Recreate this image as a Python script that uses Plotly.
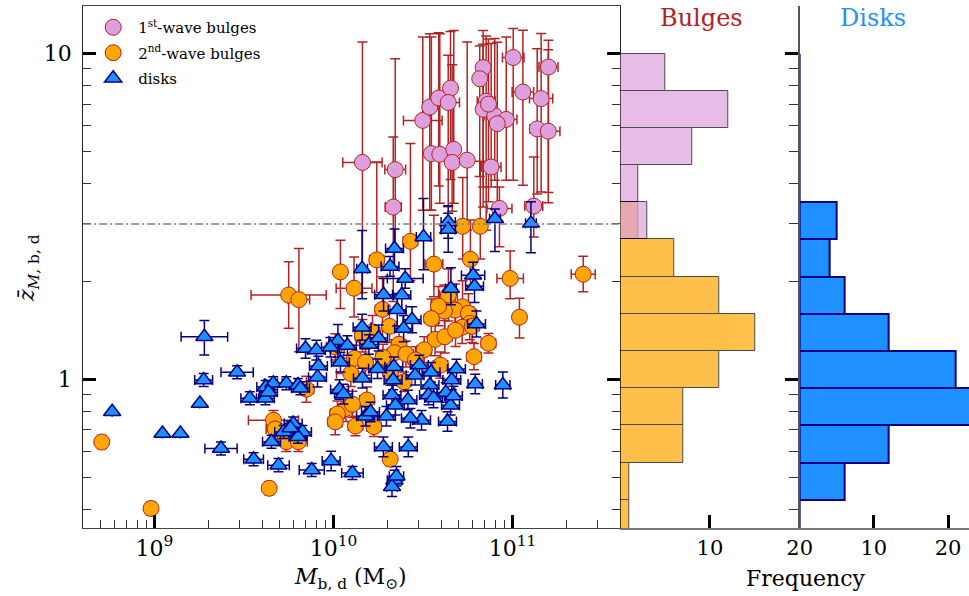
import numpy as np
import plotly.graph_objects as go

# ---------------- data (log10 mass [Msun], log10 z-bar, errors in dex) ----------------
# 1st-wave bulges
p_logm = [10.162, 10.345, 10.334, 10.499, 10.538, 10.588, 10.654, 10.641, 10.547, 10.594,
          10.672, 10.663, 10.747, 10.836, 10.817, 10.853, 10.836, 10.901, 10.965, 10.915,
          10.881, 11.004, 11.058, 11.201, 11.160, 11.138, 11.200, 10.927, 11.119, 10.866]
p_logz = [0.666, 0.644, 0.529, 0.795, 0.836, 0.864, 0.894, 0.850, 0.693, 0.691,
          0.706, 0.666, 0.673, 0.957, 0.923, 0.854, 0.829, 0.809, 0.798, 0.785,
          0.652, 0.988, 0.882, 0.959, 0.862, 0.769, 0.762, 0.525, 0.532, 0.845]
p_dm = [0.11, 0.058, 0.045, 0.108, 0.03, 0.04, 0.03, 0.063, 0.03, 0.03,
        0.03, 0.03, 0.03, 0.03, 0.03, 0.05, 0.03, 0.06, 0.06, 0.03,
        0.055, 0.06, 0.06, 0.053, 0.065, 0.04, 0.065, 0.07, 0.05, 0.03]
p_dz_lo = [0.40, 0.25, 0.29, 0.276, 0.317, 0.27, 0.28, 0.32, 0.174, 0.15,
           0.165, 0.15, 0.215, 0.366, 0.30, 0.396, 0.30, 0.198, 0.187, 0.25,
           0.061, 0.377, 0.286, 0.385, 0.287, 0.20, 0.22, 0.118, 0.095, 0.30]
p_dz_hi = [0.37, 0.34, 0.215, 0.256, 0.225, 0.20, 0.174, 0.145, 0.358, 0.37,
           0.365, 0.30, 0.363, 0.114, 0.10, 0.20, 0.20, 0.237, 0.253, 0.25,
           0.379, 0.089, 0.19, 0.082, 0.20, 0.246, 0.25, 0.066, 0.151, 0.20]

# 2nd-wave bulges
o_logm = [10.722, 10.820, 10.430, 10.242, 10.039, 10.561, 10.765, 11.395, 10.987, 10.115,
          9.750, 9.807, 10.642, 10.274, 10.721, 10.679, 10.620, 10.587, 10.754, 11.039,
          10.547, 10.761, 10.313, 10.218, 10.162, 10.568, 10.622, 10.866, 10.366, 10.010,
          10.507, 10.719, 10.775, 10.682, 10.785, 10.341, 10.405, 10.277, 10.117, 10.097,
          10.395, 10.458, 10.179, 10.598, 10.318, 9.849, 10.187, 10.070, 10.022, 10.010,
          9.665, 10.106, 10.123, 10.226, 9.674, 9.737, 9.804, 10.317, 8.706, 9.641, 8.981]
o_logz = [0.470, 0.470, 0.424, 0.367, 0.330, 0.354, 0.369, 0.323, 0.310, 0.280,
          0.259, 0.245, 0.259, 0.215, 0.223, 0.213, 0.210, 0.225, 0.203, 0.191,
          0.187, 0.172, 0.163, 0.146, 0.134, 0.123, 0.131, 0.111, 0.108, 0.100,
          0.091, 0.160, 0.163, 0.151, 0.070, 0.082, 0.078, 0.068, 0.065, 0.018,
          -0.007, 0.060, 0.053, 0.044, 0.022, -0.030, -0.063, -0.089, -0.106, -0.130,
          -0.125, -0.076, -0.143, -0.145, -0.152, -0.191, -0.191, -0.245, -0.192, -0.334, -0.396]
o_dm = [0.03, 0.03, 0.04, 0.04, 0.025, 0.05, 0.03, 0.067, 0.074, 0.10,
        0.21, 0.06, 0.05, 0.04, 0.04, 0.04, 0.04, 0.04, 0.04, 0.03,
        0.04, 0.04, 0.04, 0.04, 0.04, 0.04, 0.04, 0.04, 0.04, 0.05,
        0.04, 0.04, 0.04, 0.04, 0.04, 0.04, 0.04, 0.04, 0.06, 0.08,
        0.04, 0.04, 0.04, 0.04, 0.04, 0.04, 0.04, 0.04, 0.04, 0.04,
        0.14, 0.04, 0.04, 0.04, 0.05, 0.05, 0.05, 0.025, 0.02, 0.025, 0.025]
o_dz_lo = [0.10, 0.10, 0.12, 0.10, 0.112, 0.10, 0.08, 0.054, 0.062, 0.088,
           0.102, 0.160, 0.08, 0.10, 0.08, 0.08, 0.08, 0.06, 0.06, 0.064,
           0.06, 0.05, 0.05, 0.05, 0.05, 0.05, 0.05, 0.03, 0.04, 0.04,
           0.04, 0.05, 0.05, 0.05, 0.04, 0.04, 0.04, 0.04, 0.04, 0.04,
           0.03, 0.04, 0.04, 0.04, 0.04, 0.04, 0.04, 0.04, 0.04, 0.04,
           0.03, 0.04, 0.03, 0.03, 0.03, 0.03, 0.03, 0.02, 0.02, 0.02, 0.02]
o_dz_hi = [0.15, 0.20, 0.30, 0.30, 0.097, 0.15, 0.12, 0.055, 0.084, 0.096,
           0.102, 0.157, 0.08, 0.10, 0.08, 0.08, 0.08, 0.06, 0.06, 0.058,
           0.06, 0.05, 0.05, 0.05, 0.05, 0.05, 0.05, 0.03, 0.04, 0.04,
           0.04, 0.05, 0.05, 0.05, 0.04, 0.04, 0.04, 0.04, 0.04, 0.04,
           0.03, 0.04, 0.04, 0.04, 0.04, 0.04, 0.04, 0.04, 0.04, 0.04,
           0.03, 0.04, 0.03, 0.03, 0.03, 0.03, 0.03, 0.02, 0.02, 0.02, 0.02]

# disks
d_logm = [10.641, 10.641, 10.902, 11.103, 10.503, 10.341, 10.160, 10.316, 10.780, 10.401,
          10.280, 10.382, 10.356, 10.788, 10.656, 10.439, 10.392, 10.160, 9.279, 9.844,
          9.905, 10.025, 10.078, 10.198, 10.799, 10.252, 9.983, 9.275, 9.462, 9.911,
          10.246, 10.337, 10.480, 10.687, 10.792, 10.946, 10.661, 10.539, 9.622, 9.664,
          9.737, 9.802, 10.333, 10.456, 10.039, 10.545, 10.162, 9.916, 9.533, 9.620,
          9.254, 8.764, 10.034, 10.327, 10.416, 10.531, 10.628, 10.654, 10.179, 10.296,
          10.492, 10.637, 9.775, 9.637, 9.816, 10.056, 10.207, 10.346, 10.559, 10.670,
          10.430, 9.827, 9.722, 9.802, 9.654, 9.045, 9.145, 9.372, 9.554, 9.987,
          10.279, 10.418, 9.760, 9.693, 9.879, 10.106, 10.341, 10.327, 10.352]
d_logz = [0.483, 0.460, 0.493, 0.479, 0.437, 0.402, 0.340, 0.347, 0.320, 0.310,
          0.260, 0.259, 0.214, 0.286, 0.279, 0.183, 0.156, 0.160, 0.131, 0.095,
          0.090, 0.119, 0.104, 0.107, 0.170, 0.127, 0.099, -0.002, 0.022, 0.007,
          0.033, 0.039, 0.044, 0.032, -0.014, -0.017, -0.002, -0.017, -0.023, -0.012,
          -0.012, -0.017, -0.002, 0.013, 0.053, 0.022, 0.004, 0.041, -0.058, -0.058,
          -0.074, -0.099, -0.031, -0.048, -0.063, -0.048, -0.040, -0.079, -0.113, -0.113,
          -0.125, -0.129, -0.135, -0.039, -0.027, -0.045, -0.100, -0.079, -0.057, -0.051,
          -0.119, -0.161, -0.161, -0.176, -0.191, -0.166, -0.166, -0.212, -0.245, -0.250,
          -0.207, -0.207, -0.149, -0.263, -0.278, -0.287, -0.309, -0.329, -0.297]
d_dm = [0.04, 0.04, 0.03, 0.03, 0.04, 0.05, 0.03, 0.05, 0.065, 0.10,
        0.05, 0.05, 0.05, 0.05, 0.03, 0.05, 0.05, 0.05, 0.13, 0.05,
        0.05, 0.05, 0.05, 0.05, 0.05, 0.05, 0.05, 0.05, 0.09, 0.05,
        0.05, 0.05, 0.05, 0.05, 0.04, 0.04, 0.05, 0.05, 0.05, 0.05,
        0.05, 0.05, 0.05, 0.05, 0.05, 0.05, 0.05, 0.05, 0.05, 0.05,
        0.0, 0.0, 0.05, 0.05, 0.05, 0.05, 0.05, 0.05, 0.05, 0.05,
        0.05, 0.05, 0.05, 0.05, 0.05, 0.05, 0.05, 0.05, 0.05, 0.05,
        0.05, 0.05, 0.05, 0.05, 0.05, 0.0, 0.0, 0.09, 0.055, 0.05,
        0.05, 0.05, 0.05, 0.06, 0.07, 0.06, 0.04, 0.03, 0.04]
d_dz_lo = [0.05, 0.07, 0.10, 0.09, 0.10, 0.06, 0.092, 0.03, 0.04, 0.03,
           0.05, 0.05, 0.05, 0.05, 0.05, 0.04, 0.04, 0.04, 0.056, 0.03,
           0.03, 0.05, 0.03, 0.03, 0.04, 0.04, 0.03, 0.02, 0.02, 0.03,
           0.03, 0.03, 0.03, 0.03, 0.03, 0.04, 0.03, 0.03, 0.02, 0.02,
           0.02, 0.02, 0.03, 0.03, 0.03, 0.03, 0.03, 0.03, 0.02, 0.02,
           0.0, 0.0, 0.03, 0.03, 0.03, 0.03, 0.03, 0.03, 0.03, 0.03,
           0.03, 0.03, 0.02, 0.02, 0.02, 0.03, 0.03, 0.03, 0.03, 0.03,
           0.03, 0.02, 0.02, 0.02, 0.02, 0.0, 0.0, 0.02, 0.02, 0.03,
           0.03, 0.03, 0.02, 0.02, 0.02, 0.02, 0.03, 0.03, 0.03]
d_dz_hi = [0.05, 0.05, 0.03, 0.066, 0.118, 0.06, 0.117, 0.03, 0.04, 0.03,
           0.05, 0.05, 0.05, 0.05, 0.064, 0.04, 0.04, 0.04, 0.05, 0.03,
           0.03, 0.05, 0.03, 0.03, 0.04, 0.04, 0.03, 0.02, 0.02, 0.03,
           0.03, 0.03, 0.03, 0.03, 0.03, 0.04, 0.03, 0.03, 0.02, 0.02,
           0.02, 0.02, 0.03, 0.03, 0.03, 0.03, 0.03, 0.03, 0.02, 0.02,
           0.0, 0.0, 0.03, 0.03, 0.03, 0.03, 0.03, 0.03, 0.03, 0.03,
           0.03, 0.03, 0.02, 0.02, 0.02, 0.03, 0.03, 0.03, 0.03, 0.03,
           0.03, 0.02, 0.02, 0.02, 0.02, 0.0, 0.0, 0.02, 0.02, 0.03,
           0.03, 0.03, 0.02, 0.02, 0.02, 0.02, 0.03, 0.03, 0.03]

# histograms (bins in log10 z-bar, counted from the top edge at z = 10)
bin_edges_log = [1.0, 0.886, 0.772, 0.658, 0.544, 0.430, 0.315, 0.201,
                 0.087, -0.027, -0.141, -0.255, -0.369, -0.483]
hist_first = [5, 12, 8, 2, 3, 0, 0, 0, 0, 0, 0, 0, 0]
hist_second = [0, 0, 0, 0, 2, 6, 11, 15, 11, 7, 7, 1, 1]
hist_disks = [0, 0, 0, 0, 5, 4, 6, 12, 21, 23, 12, 6, 0]

z_threshold = 3.0
x_range = [4e8, 4e11]
y_range = [0.35, 14.0]
x_major = [1e9, 1e10, 1e11]
x_major_text = ["10<sup>9</sup>", "10<sup>10</sup>", "10<sup>11</sup>"]
x_minor = [5e8, 6e8, 7e8, 8e8, 9e8, 2e9, 3e9, 4e9, 5e9, 6e9, 7e9, 8e9, 9e9,
           2e10, 3e10, 4e10, 5e10, 6e10, 7e10, 8e10, 9e10, 2e11, 3e11]
y_major = [1, 10]
y_minor = [0.4, 0.5, 0.6, 0.7, 0.8, 0.9, 2, 3, 4, 5, 6, 7, 8, 9]

# ---------------- helpers ----------------
def errs(logv, lo, hi):
    v = 10 ** np.array(logv)
    plus = 10 ** (np.array(logv) + np.array(hi)) - v
    minus = v - 10 ** (np.array(logv) - np.array(lo))
    return v, plus, minus

SERIF = "DejaVu Serif"
W, H = 969, 596          # target picture size
PAGE_W = 984             # the page is photographed squeezed to 969 px wide
def px(x):
    return x / W
def py(y):
    return 1 - y / H

fig = go.Figure()

def add_group(logm, logz, dm, dz_lo, dz_hi, name, symbol, size, fill, edge, ecolor, lw):
    x, xp, xm = errs(logm, dm, dm)
    y, yp, ym = errs(logz, dz_lo, dz_hi)
    fig.add_trace(go.Scatter(
        x=x, y=y, mode="markers", name=name, legendgroup=name,
        marker=dict(symbol=symbol, size=size, color=fill, line=dict(color=edge, width=lw)),
        error_x=dict(type="data", symmetric=False, array=xp, arrayminus=xm,
                     color=ecolor, thickness=1.5, width=5),
        error_y=dict(type="data", symmetric=False, array=yp, arrayminus=ym,
                     color=ecolor, thickness=1.5, width=5),
        xaxis="x", yaxis="y"))

add_group(p_logm, p_logz, p_dm, p_dz_lo, p_dz_hi, "1<sup>st</sup>-wave bulges",
          "circle", 16, "plum", "firebrick", "firebrick", 1)
add_group(o_logm, o_logz, o_dm, o_dz_lo, o_dz_hi, "2<sup>nd</sup>-wave bulges",
          "circle", 16, "orange", "firebrick", "firebrick", 1)
add_group(d_logm, d_logz, d_dm, d_dz_lo, d_dz_hi, "disks",
          "triangle-up", 15, "dodgerblue", "navy", "navy", 1.5)

edges = np.array(bin_edges_log)
centers = (edges[:-1] + edges[1:]) / 2
widths = edges[:-1] - edges[1:]

fig.add_trace(go.Bar(x=hist_second, y=centers, width=widths, orientation="h",
                     marker=dict(color="orange", line=dict(color="black", width=1)),
                     opacity=0.7, showlegend=False, xaxis="x2", yaxis="y2"))
fig.add_trace(go.Bar(x=hist_first, y=centers, width=widths, orientation="h",
                     marker=dict(color="plum", line=dict(color="black", width=1)),
                     opacity=0.7, showlegend=False, xaxis="x2", yaxis="y2"))
fig.add_trace(go.Bar(x=hist_disks, y=centers, width=widths, orientation="h",
                     marker=dict(color="dodgerblue", line=dict(color="navy", width=2)),
                     showlegend=False, xaxis="x3", yaxis="y3"))

fig.add_shape(type="line", xref="x domain", x0=0, x1=1, yref="y",
              y0=z_threshold, y1=z_threshold,
              line=dict(color="gray", width=1.5, dash="8px,3px,2px,3px"))

ydom = [py(528), py(6)]
log_yr = [np.log10(y_range[0]), np.log10(y_range[1])]
tickfont = dict(family=SERIF, size=22, color="black")

fig.update_layout(
    width=PAGE_W, height=H, autosize=False, margin=dict(l=0, r=0, t=0, b=0),
    paper_bgcolor="white", plot_bgcolor="white",
    barmode="overlay", bargap=0,
    font=dict(family=SERIF, color="black"),
    xaxis=dict(type="log", domain=[px(83), px(619)], anchor="y",
               range=[np.log10(x_range[0]), np.log10(x_range[1])],
               showgrid=False, zeroline=False, showline=True, linecolor="#444", linewidth=1.2,
               mirror=True, ticks="inside", ticklen=13, tickwidth=2.5, tickcolor="black",
               tickmode="array", tickvals=x_major, ticktext=x_major_text, tickfont=tickfont,
               minor=dict(tickmode="array", tickvals=x_minor, ticks="inside", ticklen=8,
                          tickwidth=1, tickcolor="#333")),
    yaxis=dict(type="log", domain=ydom, anchor="x",
               range=log_yr,
               showgrid=False, zeroline=False, showline=True, linecolor="#222", linewidth=1.2,
               mirror="ticks", ticks="inside", ticklen=13, tickwidth=3, tickcolor="black",
               tickmode="array", tickvals=y_major, ticktext=["1", "10"], tickfont=tickfont,
               ticklabelstandoff=6,
               minor=dict(tickmode="array", tickvals=y_minor, ticks="inside", ticklen=8,
                          tickwidth=1, tickcolor="#333")),
    xaxis2=dict(domain=[px(619), px(798)], anchor="y2", range=[0, 20],
                showgrid=False, zeroline=False, showline=True, linecolor="#777", linewidth=1.5,
                ticks="inside", ticklen=13, tickwidth=2.5, tickcolor="black",
                tickmode="array", tickvals=[10, 20], tickfont=dict(family=SERIF, size=21)),
    yaxis2=dict(domain=ydom, anchor="x2", range=log_yr, showgrid=False, zeroline=False,
                showline=False, showticklabels=False, ticks=""),
    xaxis3=dict(domain=[px(798), 1.0], anchor="y3", range=[0, 23.1],
                showgrid=False, zeroline=False, showline=True, linecolor="#777", linewidth=1.5,
                ticks="inside", ticklen=13, tickwidth=2.5, tickcolor="black",
                tickmode="array", tickvals=[10, 20], tickfont=dict(family=SERIF, size=21)),
    yaxis3=dict(domain=ydom, anchor="x3", range=log_yr, showgrid=False, zeroline=False,
                showline=True, linecolor="#555", linewidth=1.5, showticklabels=False,
                ticks="outside", ticklen=13, tickwidth=3, tickcolor="black",
                tickmode="array", tickvals=list(np.log10(y_major)),
                minor=dict(tickmode="array", tickvals=list(np.log10(y_minor)), ticks="outside",
                           ticklen=9, tickwidth=1, tickcolor="#333")),
    legend=dict(x=px(88), y=py(11), xanchor="left", yanchor="top",
                bgcolor="rgba(255,255,255,0)", font=dict(family=SERIF, size=15),
                tracegroupgap=3, itemwidth=40),
    showlegend=True,
)

fig.add_annotation(text="<i>M</i><sub>b, d</sub> (M<sub>⊙</sub>)", x=px(350), y=py(578),
                   xref="paper", yref="paper", showarrow=False,
                   font=dict(family=SERIF, size=22), xanchor="center", yanchor="middle")
fig.add_annotation(text="<i>z̄</i><sub><i>M</i>, b, d</sub>", x=px(28), y=py(268),
                   xref="paper", yref="paper", showarrow=False, textangle=-90,
                   font=dict(family=SERIF, size=22), xanchor="center", yanchor="middle")
fig.add_annotation(text="Frequency", x=px(804), y=py(578), xref="paper", yref="paper",
                   showarrow=False, font=dict(family=SERIF, size=22),
                   xanchor="center", yanchor="middle")
fig.add_annotation(text="Bulges", x=px(700), y=py(18), xref="paper", yref="paper",
                   showarrow=False, font=dict(family=SERIF, size=24, color="firebrick"),
                   xanchor="center", yanchor="middle")
fig.add_annotation(text="Disks", x=px(871), y=py(18), xref="paper", yref="paper",
                   showarrow=False, font=dict(family=SERIF, size=24, color="dodgerblue"),
                   xanchor="center", yanchor="middle")

post = """
document.documentElement.style.overflow='hidden';
document.body.style.overflow='hidden';
document.body.style.margin='0';
document.body.style.padding='0';
"""

fig.write_html("out.html", config={"displayModeBar": False, "responsive": False},
               post_script=post)
